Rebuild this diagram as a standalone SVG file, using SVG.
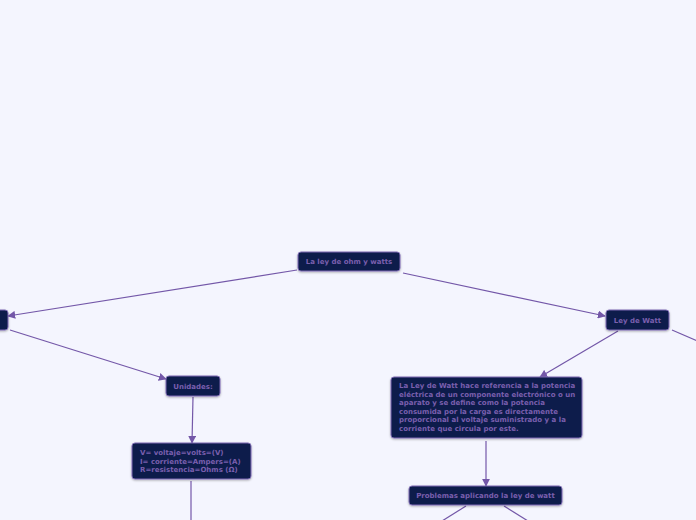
<svg xmlns="http://www.w3.org/2000/svg" width="696" height="520" viewBox="0 0 696 520">
<defs>
<marker id="ah" viewBox="0 0 10 10" refX="9" refY="5" markerWidth="8" markerHeight="8" markerUnits="userSpaceOnUse" orient="auto">
<path d="M0,0 L10,5 L0,10 z" fill="#7357a8"/>
</marker>
<filter id="sh" x="-10%" y="-20%" width="120%" height="150%">
<feDropShadow dx="0" dy="1" stdDeviation="1" flood-color="#000" flood-opacity="0.3"/>
</filter>
</defs>
<style>
.n{fill:#0f1a4b;stroke:#7d6bb4;stroke-width:1;filter:url(#sh)}
.t{font-family:"DejaVu Sans",sans-serif;font-size:7px;font-weight:bold;fill:#7a5fae}
.c{stroke:#7357a8;stroke-width:1.2;fill:none}
</style>
<rect width="696" height="520" fill="#f4f5fe"/>
<g id="connectors">
<path class="c" d="M297,270 L8,316" marker-end="url(#ah)"/>
<path class="c" d="M403,273 L605,316" marker-end="url(#ah)"/>
<path class="c" d="M10,330 L166,379" marker-end="url(#ah)"/>
<path class="c" d="M618,331 L540,377" marker-end="url(#ah)"/>
<path class="c" d="M672,330 L700,342"/>
<path class="c" d="M193,397 L192,443" marker-end="url(#ah)"/>
<path class="c" d="M191,481 L191,520"/>
<path class="c" d="M486,441 L486,486" marker-end="url(#ah)"/>
<path class="c" d="M466,506 L442,521"/>
<path class="c" d="M504,506 L528,521"/>
</g>
<g id="root">
<rect class="n" x="298" y="252" width="102" height="19" rx="3"/>
<text class="t" x="349" y="264" text-anchor="middle">La ley de ohm y watts</text>
</g>
<g id="left">
<rect class="n" x="-20" y="310" width="28" height="20" rx="3"/>
</g>
<g id="watt">
<rect class="n" x="606" y="310" width="63" height="20" rx="3"/>
<text class="t" x="637.5" y="322.5" text-anchor="middle">Ley de Watt</text>
</g>
<g id="unidades">
<rect class="n" x="166" y="376" width="54" height="20" rx="3"/>
<text class="t" x="193" y="388.5" text-anchor="middle">Unidades:</text>
</g>
<g id="desc">
<rect class="n" x="391" y="377" width="191" height="61" rx="3"/>
<text class="t" x="399" y="388">La Ley de Watt hace referencia a la potencia</text>
<text class="t" x="399" y="396.5">eléctrica de un componente electrónico o un</text>
<text class="t" x="399" y="405">aparato y se define como la potencia</text>
<text class="t" x="399" y="413.5">consumida por la carga es directamente</text>
<text class="t" x="399" y="422">proporcional al voltaje suministrado y a la</text>
<text class="t" x="399" y="430.5">corriente que circula por este.</text>
</g>
<g id="vars">
<rect class="n" x="132" y="443" width="119" height="36" rx="3"/>
<text class="t" x="140" y="455">V= voltaje=volts=(V)</text>
<text class="t" x="140" y="463.5">I= corriente=Ampers=(A)</text>
<text class="t" x="140" y="472">R=resistencia=Ohms (Ω)</text>
</g>
<g id="problemas">
<rect class="n" x="409" y="486" width="153" height="19" rx="3"/>
<text class="t" x="485.5" y="498" text-anchor="middle">Problemas aplicando la ley de watt</text>
</g>
</svg>
